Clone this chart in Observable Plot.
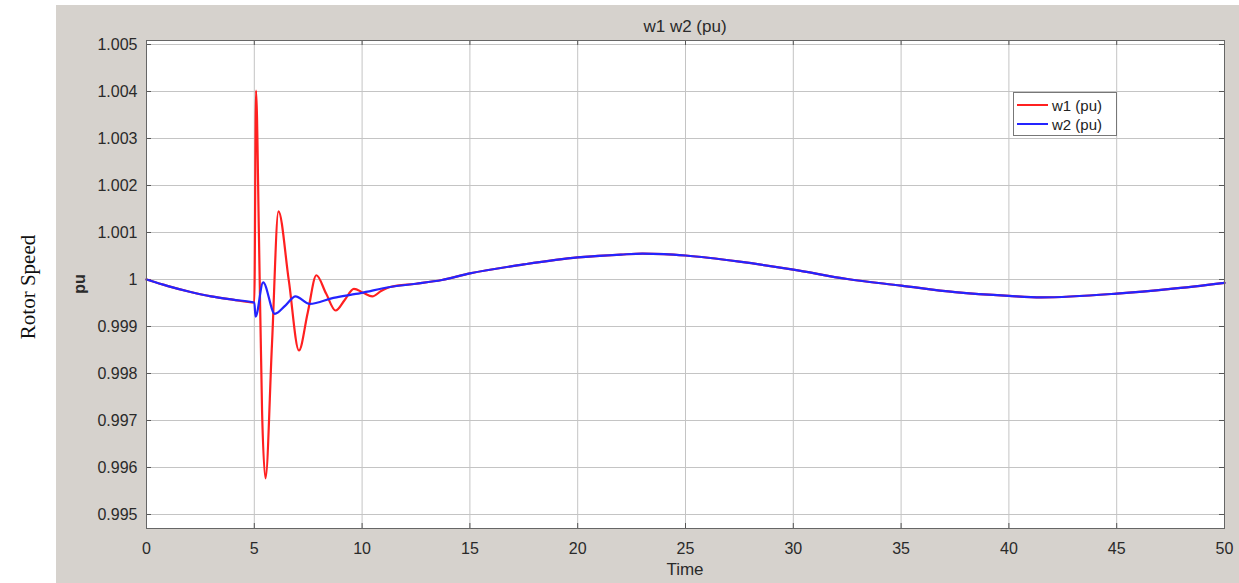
<!DOCTYPE html>
<html>
<head>
<meta charset="utf-8">
<script src="https://cdn.jsdelivr.net/npm/d3@7"></script>
<script src="https://cdn.jsdelivr.net/npm/@observablehq/plot@0.6"></script>
<style>
html,body{margin:0;padding:0;background:#fff;}
#wrap{position:relative;width:1239px;height:583px;overflow:hidden;font-family:Arial,"Liberation Sans",sans-serif;}
#panel{position:absolute;left:56px;top:5px;width:1183px;height:578px;background:#d6d2cd;}
#chart{position:absolute;left:0;top:0;}
.lbl{position:absolute;white-space:nowrap;color:#2a2a2a;}
#title{left:685px;top:27px;transform:translate(-50%,-50%);font-size:17px;}
#xlabel{left:685px;top:570px;transform:translate(-50%,-50%);font-size:17px;}
#ylabel{left:80px;top:284px;transform:translate(-50%,-50%) rotate(-90deg);font-size:16px;font-weight:bold;}
#outer{left:28px;top:287px;transform:translate(-50%,-50%) rotate(-90deg);font-family:"Liberation Serif","DejaVu Serif",serif;font-size:21px;color:#111;}
#legend{position:absolute;left:1013px;top:92px;width:104px;height:44px;background:#fff;border:1px solid #777;box-sizing:border-box;font-size:15px;color:#222;}
.item{position:absolute;left:3px;height:20px;display:flex;align-items:center;}
.sw{width:31px;height:2px;margin-right:4px;}
</style>
</head>
<body>
<div id="wrap">
  <div id="panel"></div>
  <div id="chart"></div>
  <div class="lbl" id="title">w1 w2 (pu)</div>
  <div class="lbl" id="xlabel">Time</div>
  <div class="lbl" id="ylabel">pu</div>
  <div class="lbl" id="outer">Rotor Speed</div>
  <div id="legend">
    <div class="item" style="top:2px"><div class="sw" style="background:#ff2020"></div>w1 (pu)</div>
    <div class="item" style="top:21px"><div class="sw" style="background:#2424ff"></div>w2 (pu)</div>
  </div>
</div>
<script>
// Tick values
const xTicks = [0, 5, 10, 15, 20, 25, 30, 35, 40, 45, 50];
const yTicks = [0.995, 0.996, 0.997, 0.998, 0.999, 1.000, 1.001, 1.002, 1.003, 1.004, 1.005];

// w2 (pu): time and value
const w2Time  = [0, 1, 2, 3, 4, 5, 5.06, 5.41, 5.95, 6.45, 6.91, 7.57, 8.67, 9.93, 11.3, 12.5, 13.7, 15, 17.5, 20, 22, 23, 24, 25, 27.5, 30, 32.5, 35, 37.5, 40, 41.5, 45, 47.5, 50];
const w2Value = [1.00000, 0.99986, 0.99974, 0.99964, 0.99957, 0.99951, 0.99921, 0.99994, 0.99927, 0.99945, 0.99964, 0.99948, 0.99961, 0.99971, 0.99984, 0.99991, 0.99999, 1.00013, 1.00032, 1.00047, 1.00053, 1.00055, 1.00054, 1.00051, 1.00038, 1.00021, 1.00001, 0.99987, 0.99973, 0.99965, 0.99962, 0.99970, 0.99980, 0.99993];

// w1 (pu): transient part (outside it, w1 lies under w2)
const w1Time  = [5.0, 5.08, 5.22, 5.36, 5.52, 5.82, 6.12, 6.60, 7.07, 7.48, 7.88, 8.33, 8.77, 9.20, 9.62, 10.05, 10.47, 10.9];
const w1Value = [0.99951, 1.00402, 1.00080, 0.99720, 0.99577, 0.99862, 1.00145, 0.99998, 0.99849, 0.99930, 1.00009, 0.99970, 0.99934, 0.99957, 0.99980, 0.99972, 0.99964, 0.99976];

const w2 = w2Time.map((t, i) => ({t, v: w2Value[i]}));
const w1 = [
  ...w2.filter(d => d.t < 5),
  ...w1Time.map((t, i) => ({t, v: w1Value[i]})),
  ...w2.filter(d => d.t > 11)
];

const fmt = d => String(+d.toFixed(3));

const plot = Plot.plot({
  width: 1239,
  height: 583,
  marginLeft: 146,
  marginRight: 15,
  marginTop: 40,
  marginBottom: 55,
  style: {background: "transparent", fontFamily: "Arial, 'Liberation Sans', sans-serif", fontSize: "16px", color: "#2a2a2a"},
  x: {domain: [0, 50]},
  y: {domain: [0.994702, 1.005085]},
  marks: [
    Plot.frame({fill: "white", stroke: null}),
    Plot.gridX(xTicks, {stroke: "#c4c4c4", strokeOpacity: 1}),
    Plot.gridY(yTicks, {stroke: "#c4c4c4", strokeOpacity: 1}),
    Plot.tickY(yTicks, {y: d => d, insetRight: 1073, stroke: "#555"}),
    Plot.tickY(yTicks, {y: d => d, insetLeft: 1073, stroke: "#555"}),
    Plot.tickX(xTicks, {x: d => d, insetTop: 483, stroke: "#555"}),
    Plot.tickX(xTicks, {x: d => d, insetBottom: 483, stroke: "#555"}),
    Plot.axisX(xTicks, {tickSize: 0, tickPadding: 14, label: null, fill: "#2a2a2a"}),
    Plot.axisY(yTicks, {tickSize: 0, tickPadding: 9, tickFormat: fmt, label: null, fill: "#2a2a2a"}),
    Plot.line(w1, {x: "t", y: "v", stroke: "#ff2020", strokeWidth: 2.2, curve: "monotone-x"}),
    Plot.line(w2, {x: "t", y: "v", stroke: "#2424ff", strokeWidth: 2.2, curve: "monotone-x"}),
    Plot.frame({stroke: "#666"})
  ]
});
document.getElementById("chart").appendChild(plot);
</script>
</body>
</html>
